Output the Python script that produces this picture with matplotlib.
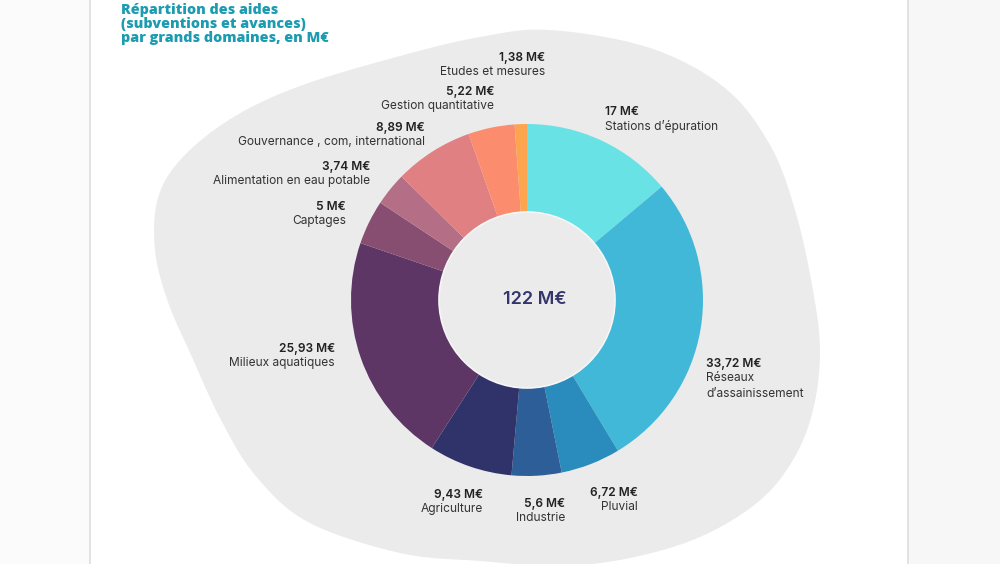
import numpy as np
import matplotlib.pyplot as plt
from matplotlib.patches import Polygon, Rectangle, Circle

W, H = 1000, 564

domains = ['Stations d’épuration', 'Réseaux\nd’assainissement', 'Pluvial', 'Industrie',
           'Agriculture', 'Milieux aquatiques', 'Captages', 'Alimentation en eau potable',
           'Gouvernance , com, international', 'Gestion quantitative', 'Etudes et mesures']
values = [17, 33.72, 6.72, 5.6, 9.43, 25.93, 5, 3.74, 8.89, 5.22, 1.38]
colors = ['#69e2e6', '#41b8d8', '#2a8bbd', '#2d5e98', '#2f3369', '#5d3666', '#874e71',
          '#b46f87', '#e08082', '#fb8c6e', '#fda54e']

# label anchors in pixel coords (x, y of value line, horizontal alignment)
label_pos = [(605, 112, 'left'), (706, 364, 'left'), (638, 493, 'right'), (565, 504, 'right'),
             (483, 495, 'right'), (335, 349, 'right'), (346, 207, 'right'), (370, 167, 'right'),
             (425, 128, 'right'), (494, 92, 'right'), (545, 58, 'right')]

# outline of the grey background blob (pixel coords)
blob = [(550, 30), (650, 48), (725, 88), (770, 145), (795, 210), (812, 285), (820, 350),
        (813, 410), (793, 460), (758, 502), (700, 537), (630, 558), (560, 566), (480, 561),
        (400, 553), (308, 522), (255, 475), (220, 418), (192, 357), (168, 302), (155, 250),
        (158, 198), (182, 158), (232, 118), (300, 86), (400, 56), (480, 37)]


def fmt(v):
    return f'{v:g}'.replace('.', ',') + ' M€'


def smooth_closed(pts, n=20):
    p = np.array(pts, dtype=float)
    out = []
    k = len(p)
    for i in range(k):
        p0, p1, p2, p3 = p[i - 1], p[i], p[(i + 1) % k], p[(i + 2) % k]
        for t in np.linspace(0, 1, n, endpoint=False):
            t2, t3 = t * t, t * t * t
            out.append(0.5 * ((2 * p1) + (-p0 + p2) * t + (2 * p0 - 5 * p1 + 4 * p2 - p3) * t2
                              + (-p0 + 3 * p1 - 3 * p2 + p3) * t3))
    return np.array(out)


plt.rcParams['font.family'] = ['Inter', 'DejaVu Sans']

fig = plt.figure(figsize=(W / 100, H / 100), dpi=100, facecolor='#f7f7f7')
ax = fig.add_axes([0, 0, 1, 1])
ax.set_facecolor('#f7f7f7')

# page panel
ax.add_patch(Rectangle((0, 0), 89, H, facecolor='#fbfbfb', edgecolor='none', zorder=0))
ax.add_patch(Rectangle((90, 0), 817, H, facecolor='white', edgecolor='none', zorder=0))
ax.plot([89.5, 89.5], [0, H], color='#dedede', lw=1.2, zorder=1)
ax.plot([907.5, 907.5], [0, H], color='#dedede', lw=1.2, zorder=1)

sb = smooth_closed(blob)
sb[:, 1] = H - sb[:, 1]
ax.add_patch(Polygon(sb, closed=True, facecolor='#ebebeb', edgecolor='none', zorder=1))

cx, cy, r = 527, H - 300, 176
wedges, _ = ax.pie(values, colors=colors, startangle=90, counterclock=False,
                   radius=r, center=(cx, cy),
                   wedgeprops=dict(width=r - 88, edgecolor='none', zorder=2))
ax.add_patch(Circle((cx, cy), 88, facecolor='none', edgecolor='#f6f6f6', lw=1.2, zorder=3))

ax.text(cx + 8, cy, f'{int(sum(values))} M€', ha='center', va='center', fontsize=13,
        fontweight='semibold', color='#33356b', zorder=4)

for name, v, (x, y, ha) in zip(domains, values, label_pos):
    ax.text(x, H - y, fmt(v), ha=ha, va='center', fontsize=8.6, fontweight='semibold',
            color='#222222', zorder=4)
    ax.text(x, H - y - 8, name, ha=ha, va='top', fontsize=8.6, color='#333333',
            linespacing=1.45, zorder=4)

ax.text(121, H - 3, 'Répartition des aides\n(subventions et avances)\npar grands domaines, en M€',
        ha='left', va='top', fontsize=10.3, fontweight='extra bold', color='#1d9cb1',
        family=['Open Sans', 'DejaVu Sans'], linespacing=1.02, zorder=4)

ax.set_xlim(0, W)
ax.set_ylim(0, H)
ax.set_aspect('equal')
ax.axis('off')

fig.savefig('out.png', dpi=100, facecolor=fig.get_facecolor())
